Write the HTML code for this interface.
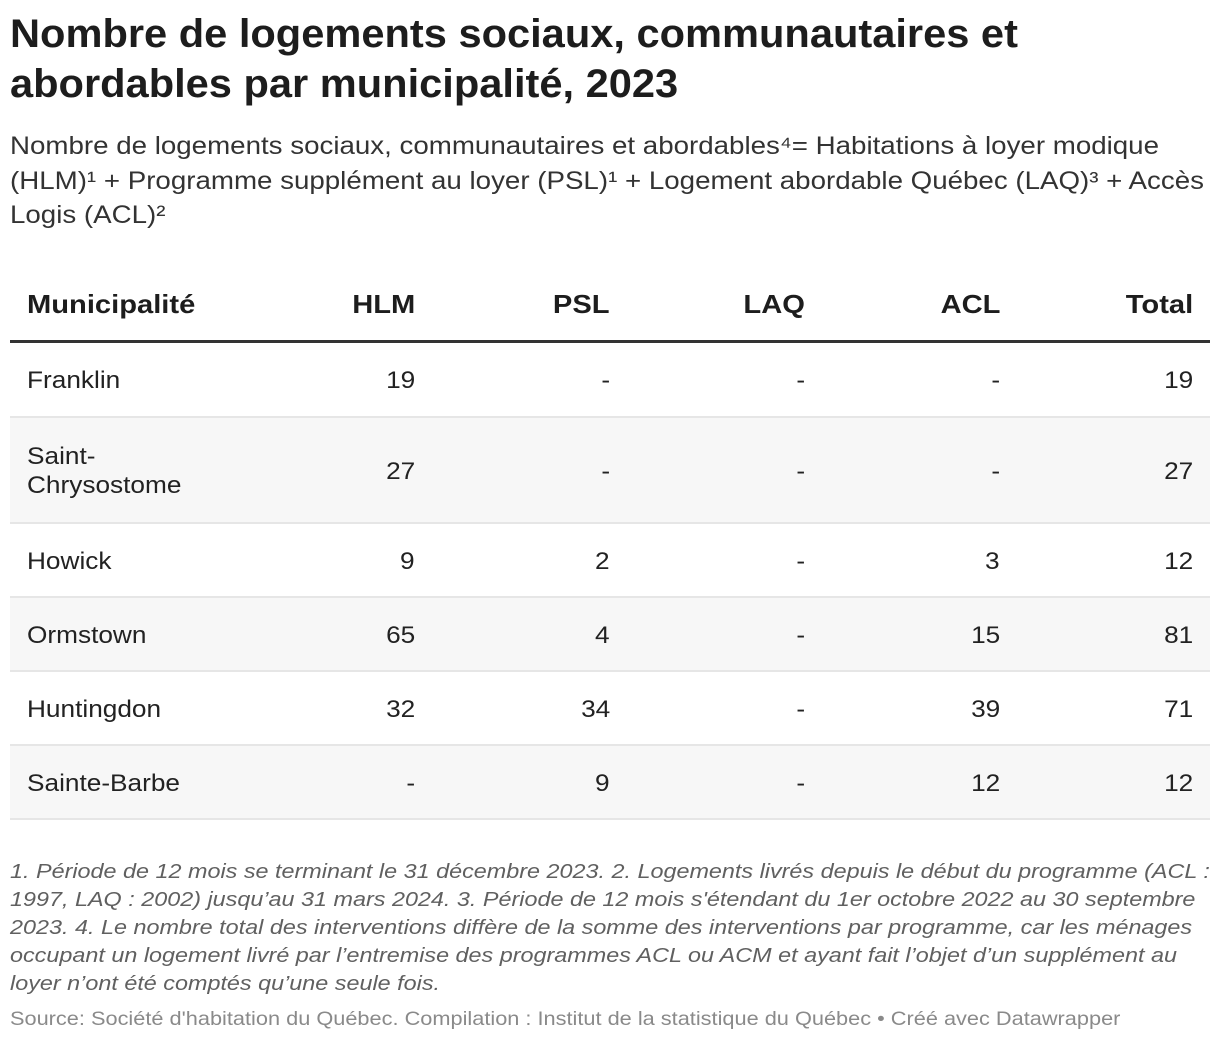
<!DOCTYPE html>
<html><head><meta charset="utf-8"><style>
body{margin:0;width:1220px;height:1044px;background:#fff;font-family:"Liberation Sans",sans-serif;color:#1d1d1d;position:relative;overflow:hidden}
.abs{position:absolute;white-space:nowrap}
.ln{display:block;transform-origin:left center}
.title{font-weight:bold;font-size:40px;left:10px;line-height:50px;top:9px}
.title .ln{transform:scaleX(1.04)}
.sub{font-size:25px;left:10px;line-height:34.5px;top:129px;color:#333}
.sub .ln{transform:scaleX(1.108)}
.hdr{font-weight:bold;font-size:26px;top:289px}
.hdr span{display:inline-block;transform:scaleX(1.12)}
.row{position:absolute;left:10px;width:1200px}
.cell{position:absolute;font-size:24.5px;color:#222}
.cell span{display:block;transform:scaleX(1.07);transform-origin:left center}
.r span{transform-origin:right center}
.r{text-align:right}
.note{font-size:20.5px;font-style:italic;color:#606060;left:10px;line-height:28px;top:858px}
.note .ln{transform:scaleX(1.14)}
.src{font-size:19.5px;color:#8a8a8a;left:10px;top:1008px}
.src .ln{transform:scaleX(1.115)}
</style></head><body>
<div class="abs title"><span class="ln">Nombre de logements sociaux, communautaires et</span><span class="ln">abordables par municipalité, 2023</span></div>
<div class="abs sub"><span class="ln">Nombre de logements sociaux, communautaires et abordables⁴= Habitations à loyer modique</span><span class="ln">(HLM)¹ + Programme supplément au loyer (PSL)¹ + Logement abordable Québec (LAQ)³ + Accès</span><span class="ln">Logis (ACL)²</span></div>
<div id="table"></div>
<div class="abs note"><span class="ln">1. Période de 12 mois se terminant le 31 décembre 2023. 2. Logements livrés depuis le début du programme (ACL :</span><span class="ln">1997, LAQ : 2002) jusqu’au 31 mars 2024. 3. Période de 12 mois s'étendant du 1er octobre 2022 au 30 septembre</span><span class="ln">2023. 4. Le nombre total des interventions diffère de la somme des interventions par programme, car les ménages</span><span class="ln">occupant un logement livré par l’entremise des programmes ACL ou ACM et ayant fait l’objet d’un supplément au</span><span class="ln">loyer n’ont été comptés qu’une seule fois.</span></div>
<div class="abs src"><span class="ln">Source: Société d'habitation du Québec. Compilation : Institut de la statistique du Québec • Créé avec Datawrapper</span></div>
<script>
const headers=["Municipalité","HLM","PSL","LAQ","ACL","Total"];
const municipalities=["Franklin","Saint-<br>Chrysostome","Howick","Ormstown","Huntingdon","Sainte-Barbe"];
const hlm=["19","27","9","65","32","-"];
const psl=["-","-","2","4","34","9"];
const laq=["-","-","-","-","-","-"];
const acl=["-","-","3","15","39","12"];
const total=["19","27","12","81","71","12"];
const colRight=[0,415,610,805,1000,1193];
const rowTops=[343,418,524,598,672,746];
const rowH=[75,106,74,74,74,74];
const t=document.getElementById('table');
headers.forEach((h,i)=>{
  const d=document.createElement('div');
  d.className='abs hdr';
  
  
  const s=document.createElement('span');
  s.textContent=h;
  s.style.transformOrigin=i==0?'left center':'right center';
  d.appendChild(s);
  if(i==0)d.style.left='27px';else{d.style.right=(1220-colRight[i])+'px';}
  t.appendChild(d);
});
const line=document.createElement('div');
line.style.cssText='position:absolute;left:10px;top:340px;width:1200px;height:3px;background:#333';


t.appendChild(line);
municipalities.forEach((m,r)=>{
  const row=document.createElement('div');
  row.className='row';
  
  
  row.style.top=rowTops[r]+'px';row.style.height=rowH[r]+'px';
  row.style.background=r%2?'#f7f7f7':'#fff';
  row.style.borderBottom='2px solid #e6e6e6';row.style.boxSizing='border-box';
  const vals=[m,hlm[r],psl[r],laq[r],acl[r],total[r]];
  vals.forEach((v,i)=>{
    const c=document.createElement('div');
    c.className='cell'+(i?' r':'');
    
    
    c.innerHTML=v.split('<br>').map(x=>'<span>'+x+'</span>').join('');
    const multi=v.includes('<br>');
    c.style.lineHeight='29px';
    const h=multi?58:29;
    c.style.top=((rowH[r]-2-h)/2+1)+'px';
    if(i==0)c.style.left='17px';else c.style.right=(1210-colRight[i])+'px';
    row.appendChild(c);
  });
  t.appendChild(row);
});
</script>
</body></html>
